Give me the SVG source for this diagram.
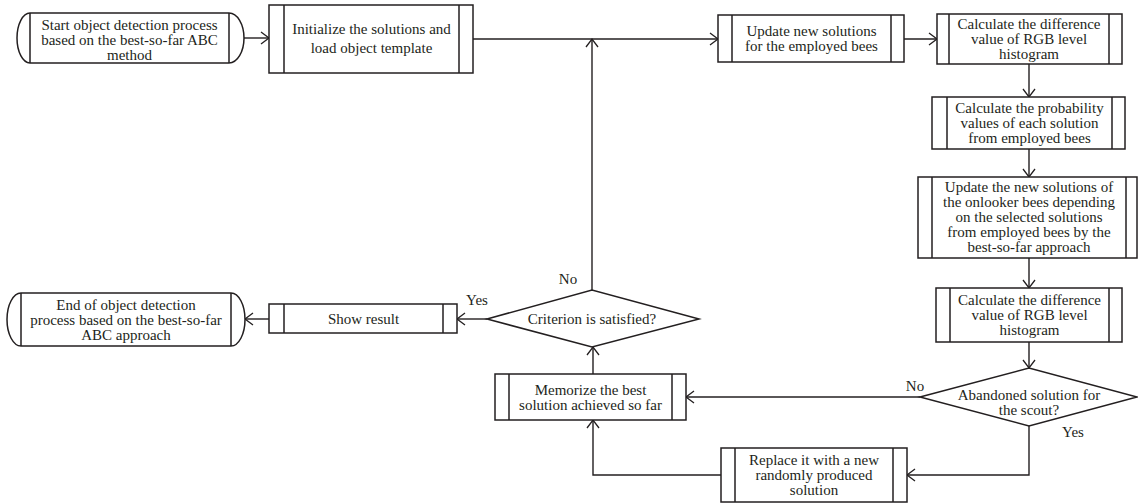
<svg xmlns="http://www.w3.org/2000/svg" width="1138" height="503" viewBox="0 0 1138 503">
<defs>
<marker id="arr" markerUnits="userSpaceOnUse" markerWidth="14" markerHeight="16" refX="10" refY="7" orient="auto">
<path d="M2,1 L10,7 L2,13" fill="none" stroke="#231f20" stroke-width="1.3"/>
</marker>
<style>
.s{fill:#fff;stroke:#231f20;stroke-width:1.5}
.l{fill:none;stroke:#231f20;stroke-width:1.5}
.c{fill:none;stroke:#231f20;stroke-width:1.4;marker-end:url(#arr)}
text{font-family:"Liberation Serif","Times New Roman",serif;font-size:15px;fill:#231f20;text-anchor:middle}
</style>
</defs>
<rect width="1138" height="503" fill="#fff"/>
<g id="connectors">
<path class="c" d="M244,38 H269"/>
<path class="c" d="M473,39 H718"/>
<path class="c" d="M904,39 H937"/>
<path class="c" d="M1029,64 V97"/>
<path class="c" d="M1029,149 V177"/>
<path class="c" d="M1029,258 V288"/>
<path class="c" d="M1029,342 V368"/>
<path class="c" d="M920,397 H686"/>
<path class="c" d="M1029,426 V475 H907"/>
<path class="c" d="M721,475 H593 V420"/>
<path class="c" d="M593,374 V347"/>
<path class="c" d="M592,290 V39"/>
<path class="c" d="M487,319 H457"/>
<path class="c" d="M269,319 H245"/>
</g>
<g id="start">
<path class="s" d="M30,13 H229 A15,25 0 0 1 229,63 H30 A13,25 0 0 1 30,13 Z"/>
<path class="l" d="M30,13 V63 M229,13 V63"/>
<text x="129.5" y="29.5">Start object detection process</text>
<text x="129.5" y="44.5">based on the best-so-far ABC</text>
<text x="129.5" y="59.5">method</text>
</g>
<g id="init">
<rect class="s" x="269" y="5" width="204" height="68"/>
<path class="l" d="M284,5 V73 M459,5 V73"/>
<text x="371.5" y="34">Initialize the solutions and</text>
<text x="371.5" y="53">load object template</text>
</g>
<g id="update">
<rect class="s" x="718" y="15" width="186" height="47"/>
<path class="l" d="M732,15 V62 M891,15 V62"/>
<text x="811.5" y="36">Update new solutions</text>
<text x="811.5" y="51">for the employed bees</text>
</g>
<g id="calc1">
<rect class="s" x="937" y="14" width="185" height="50"/>
<path class="l" d="M949,14 V64 M1109,14 V64"/>
<text x="1029" y="29">Calculate the difference</text>
<text x="1029" y="44">value of RGB level</text>
<text x="1029" y="59">histogram</text>
</g>
<g id="prob">
<rect class="s" x="932" y="97" width="193" height="52"/>
<path class="l" d="M947,97 V149 M1112,97 V149"/>
<text x="1029.5" y="113">Calculate the probability</text>
<text x="1029.5" y="128">values of each solution</text>
<text x="1029.5" y="143">from employed bees</text>
</g>
<g id="onlooker">
<rect class="s" x="918" y="177" width="219" height="81"/>
<path class="l" d="M932,177 V258 M1126,177 V258"/>
<text x="1029" y="192">Update the new solutions of</text>
<text x="1029" y="207">the onlooker bees depending</text>
<text x="1029" y="222">on the selected solutions</text>
<text x="1029" y="237">from employed bees by the</text>
<text x="1029" y="252">best-so-far approach</text>
</g>
<g id="calc2">
<rect class="s" x="936" y="288" width="186" height="54"/>
<path class="l" d="M950,288 V342 M1109,288 V342"/>
<text x="1029.5" y="305">Calculate the difference</text>
<text x="1029.5" y="320">value of RGB level</text>
<text x="1029.5" y="335">histogram</text>
</g>
<g id="abandoned">
<path class="s" d="M920,397 L1029,368 L1137,397 L1029,426 Z"/>
<text x="1029" y="400">Abandoned solution for</text>
<text x="1029" y="415">the scout?</text>
<text x="915" y="391">No</text>
<text x="1073" y="437">Yes</text>
</g>
<g id="replace">
<rect class="s" x="721" y="448" width="186" height="54"/>
<path class="l" d="M735,448 V502 M893,448 V502"/>
<text x="814" y="465">Replace it with a new</text>
<text x="814" y="480">randomly produced</text>
<text x="814" y="495">solution</text>
</g>
<g id="memorize">
<rect class="s" x="495" y="374" width="191" height="46"/>
<path class="l" d="M509,374 V420 M672,374 V420"/>
<text x="590.5" y="394.5">Memorize the best</text>
<text x="590.5" y="409.5">solution achieved so far</text>
</g>
<g id="criterion">
<path class="s" d="M487,319 L592,290 L699,319 L592,347 Z"/>
<text x="592" y="324">Criterion is satisfied?</text>
<text x="568" y="284">No</text>
<text x="477" y="305">Yes</text>
</g>
<g id="show">
<rect class="s" x="269" y="304" width="188" height="29"/>
<path class="l" d="M284,304 V333 M443,304 V333"/>
<text x="363.5" y="324">Show result</text>
</g>
<g id="end">
<path class="s" d="M21,293 H231 A14,26.5 0 0 1 231,346 H21 A14,26.5 0 0 1 21,293 Z"/>
<path class="l" d="M21,293 V346 M231,293 V346"/>
<text x="126" y="309.5">End of object detection</text>
<text x="126" y="324.5">process based on the best-so-far</text>
<text x="126" y="339.5">ABC approach</text>
</g>
</svg>
